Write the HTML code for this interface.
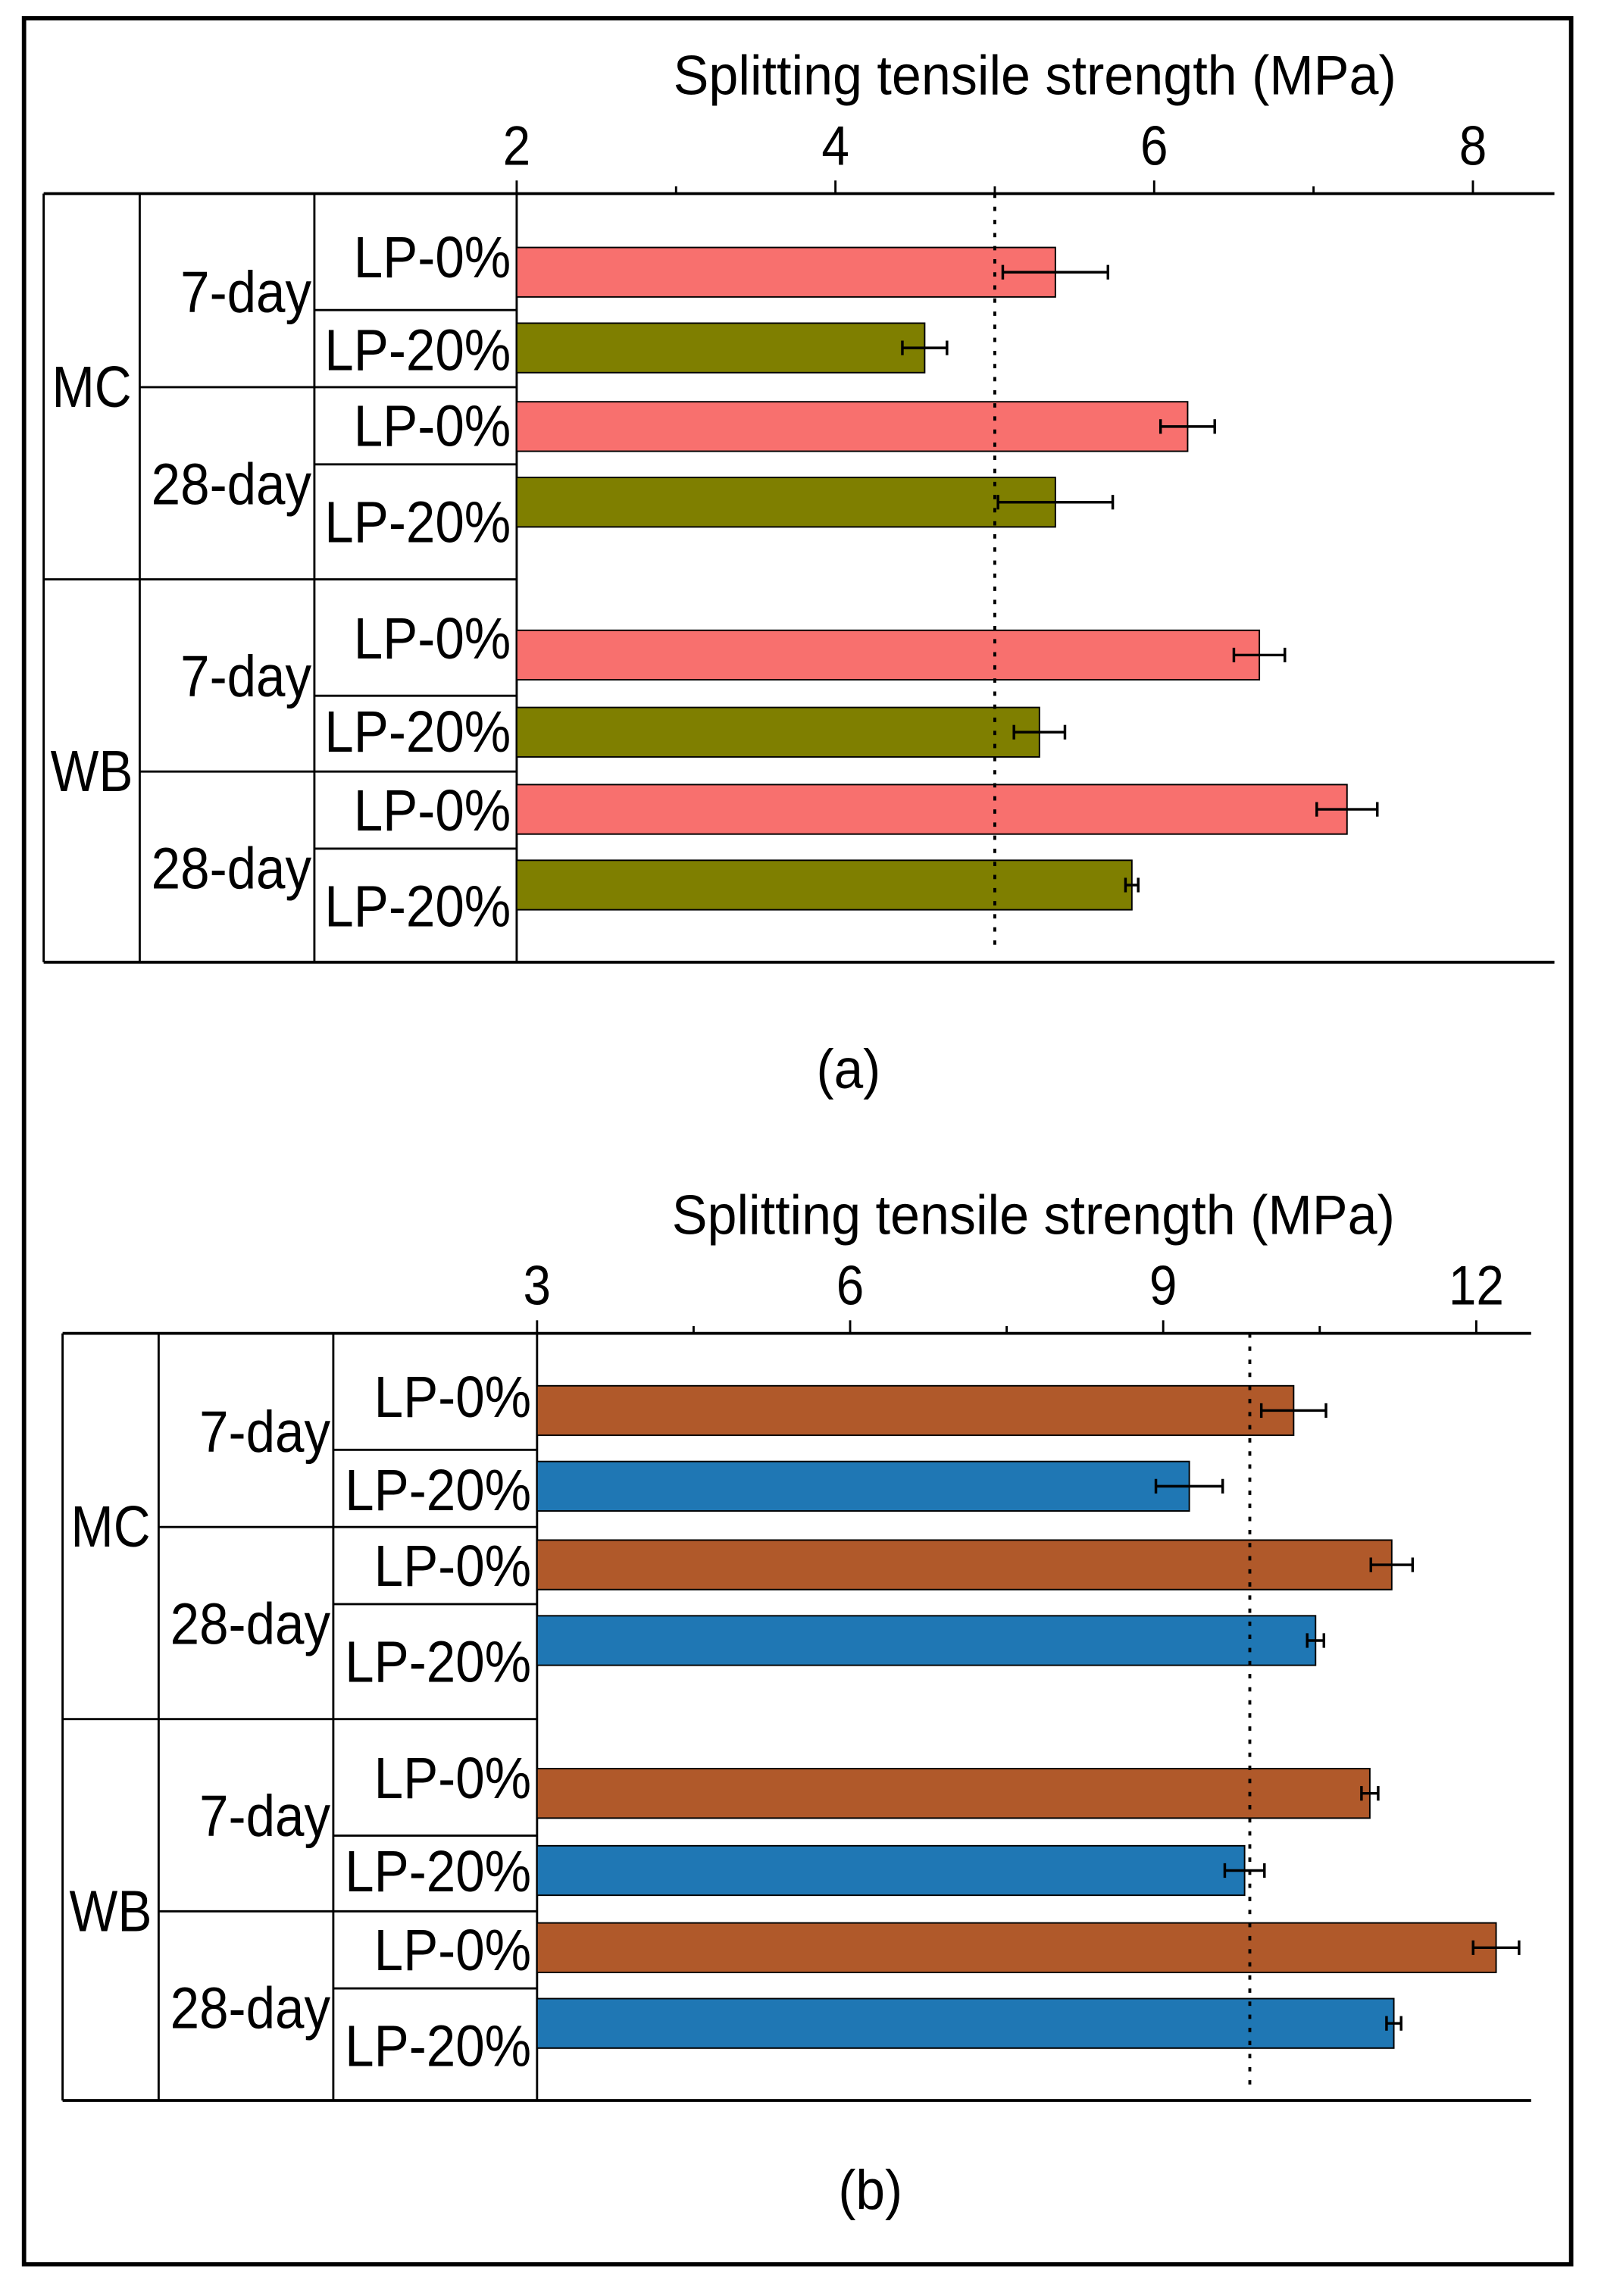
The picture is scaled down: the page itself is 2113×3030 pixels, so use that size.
<!DOCTYPE html>
<html><head><meta charset="utf-8">
<style>
html,body{margin:0;padding:0;background:#fff;}
svg{display:block;}
text{font-family:"Liberation Sans",sans-serif;fill:#000;}
</style></head>
<body>
<svg id="chart" xmlns="http://www.w3.org/2000/svg" width="2113" height="3030" viewBox="0 0 1100 1577.3" preserveAspectRatio="none">
<rect x="16.5" y="12.5" width="1063" height="1543" fill="#fff" stroke="#000" stroke-width="3"/>
</svg>
<script>
// Panel (a) data
const aTicks = [2, 4, 6, 8];
const aMinor = [3, 5, 7];
const aValues = [5.38, 4.56, 6.21, 5.38, 6.66, 5.28, 7.21, 5.86];
const aErrors = [0.33, 0.14, 0.17, 0.36, 0.16, 0.16, 0.19, 0.04];
const aRef = [5.0];
// Panel (b) data
const bTicks = [3, 6, 9, 12];
const bMinor = [4.5, 7.5, 10.5];
const bValues = [10.25, 9.25, 11.19, 10.46, 10.98, 9.78, 12.19, 11.21];
const bErrors = [0.31, 0.32, 0.20, 0.08, 0.08, 0.19, 0.22, 0.07];
const bRef = [9.83];
const categories = ["MC 7-day LP-0%","MC 7-day LP-20%","MC 28-day LP-0%","MC 28-day LP-20%","WB 7-day LP-0%","WB 7-day LP-20%","WB 28-day LP-0%","WB 28-day LP-20%"];
const lpLabels = ["LP-0%","LP-20%","LP-0%","LP-20%","LP-0%","LP-20%","LP-0%","LP-20%"];

const NS = "http://www.w3.org/2000/svg";
const svg = document.getElementById('chart');
function mk(tag, attrs, parent) {
  const e = document.createElementNS(NS, tag);
  for (const k in attrs) e.setAttribute(k, attrs[k]);
  (parent || svg).appendChild(e);
  return e;
}
function txt(parent, x, y, s, size, anchor, sx) {
  const t = mk('text', {x: 0, y: 0, 'font-size': size, 'text-anchor': anchor || 'middle', 'dominant-baseline': 'central',
    transform: 'translate(' + x + ',' + y + ') scale(' + (sx || 0.9) + ',1)'}, parent);
  t.textContent = s;
  return t;
}

function panel(cfg) {
  const g = mk('g', {});
  
  
  const xs = v => cfg.x0 + (v - cfg.v0) * cfg.unit;
  const top = cfg.top, bot = cfg.bot, off = cfg.off;
  const tt = txt(g, cfg.titleX, top - 81, 'Splitting tensile strength (MPa)', 38, 'middle', 0.96);
  
  
  const ax = mk('line', {x1: cfg.left, x2: cfg.right, y1: top, y2: top, stroke: '#000', 'stroke-width': 2}, g);
  
  
  const bl = mk('line', {x1: cfg.left, x2: cfg.right, y1: bot, y2: bot, stroke: '#000', 'stroke-width': 2}, g);
  
  
  cfg.ticks.forEach(v => {
    const l = mk('line', {x1: xs(v), x2: xs(v), y1: top - 9, y2: top, stroke: '#000', 'stroke-width': 1.5}, g);
    
    
    const t = txt(g, xs(v), top - 33, String(v), 38, 'middle', 0.9);
    
    
  });
  cfg.minor.forEach(v => {
    const l = mk('line', {x1: xs(v), x2: xs(v), y1: top - 5, y2: top, stroke: '#000', 'stroke-width': 1.5}, g);
    
    
  });
  [cfg.left, cfg.left + 66, cfg.left + 186, cfg.x0].forEach(x => {
    const l = mk('line', {x1: x, x2: x, y1: top, y2: bot, stroke: '#000', 'stroke-width': 1.5}, g);
    
    
  });
  const sep = (y, x1) => {
    const l = mk('line', {x1: x1, x2: cfg.x0, y1: top + y, y2: top + y, stroke: '#000', 'stroke-width': 1.5}, g);
    
    
  };
  sep(265, cfg.left);
  sep(133, cfg.left + 66); sep(397, cfg.left + 66);
  [80, 186, 345, 450].forEach(y => sep(y, cfg.left + 186));
  [['MC', 133], ['WB', 397]].forEach(([s, y]) => {
    const t = txt(g, cfg.left + 33, top + y, s, 40, 'middle', 0.88);
    
    
  });
  [['7-day', 68], ['28-day', 200], ['7-day', 332], ['28-day', 464]].forEach(([s, y]) => {
    const t = txt(g, cfg.left + 184, top + y, s, 40, 'end', 0.9);
    
    
  });
  const lpY = [44, 108, 160, 226, 306, 370, 424, 490];
  lpLabels.forEach((s, i) => {
    const t = txt(g, cfg.x0 - 4, top + lpY[i], s, 40, 'end', 0.9);
    
    
  });
  const barTop = [37, 89, 143, 195, 300, 353, 406, 458];
  cfg.values.forEach((v, i) => {
    const y = top + barTop[i] + off;
    const r = mk('rect', {x: cfg.x0, y: y, width: xs(v) - cfg.x0, height: 34, fill: i % 2 ? cfg.c2 : cfg.c1, stroke: '#000', 'stroke-width': 1}, g);
    
    
    const e = cfg.errors[i], cy = y + 17;
    const eg = mk('g', {stroke: '#000', 'stroke-width': 1.8}, g);
    
    
    mk('line', {x1: xs(v - e), x2: xs(v + e), y1: cy, y2: cy}, eg);
    mk('line', {x1: xs(v - e), x2: xs(v - e), y1: cy - 5, y2: cy + 5}, eg);
    mk('line', {x1: xs(v + e), x2: xs(v + e), y1: cy - 5, y2: cy + 5}, eg);
  });
  cfg.ref.forEach(v => {
    const l = mk('line', {x1: xs(v), x2: xs(v), y1: top, y2: bot - 11, stroke: '#000', 'stroke-width': 2, 'stroke-dasharray': '3,6'}, g);
    
    
  });
  const pl = txt(g, cfg.labX, cfg.labY, cfg.label, 38, 'middle', 0.95);
  
  
}

panel({name: 'panel-a', ticks: aTicks, minor: aMinor, values: aValues, errors: aErrors, ref: aRef,
  v0: 2, x0: 355, unit: 109.5, top: 133, bot: 661, left: 30, right: 1068, off: 0,
  c1: '#f8706e', c2: '#7f7f00', titleX: 711, label: '(a)', labX: 583, labY: 735});
panel({name: 'panel-b', ticks: bTicks, minor: bMinor, values: bValues, errors: bErrors, ref: bRef,
  v0: 3, x0: 369, unit: 71.7, top: 916, bot: 1443, left: 43, right: 1052, off: -1,
  c1: '#b0592a', c2: '#1f77b4', titleX: 710, label: '(b)', labX: 598, labY: 1505});
</script>
</body></html>
